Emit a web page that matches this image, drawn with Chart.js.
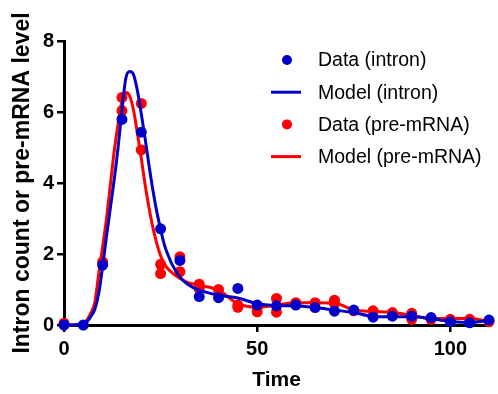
<!DOCTYPE html>
<html>
<head>
<meta charset="utf-8">
<script src="https://cdn.jsdelivr.net/npm/chart.js@4.4.1/dist/chart.umd.min.js"></script>
<style>
  html, body { margin: 0; padding: 0; background: #fff; }
</style>
</head>
<body>
<canvas id="chart" width="498" height="394"></canvas>
<script>
// measured data (replicates share a time point)
const intronTimes = [0, 5, 10, 15, 20, 25, 30, 35, 40, 45, 50, 55, 60, 65, 70, 75, 80, 85, 90, 95, 100, 105, 110];
const intronValues = [0, 0, 1.69, 5.79, 5.43, 2.71, 1.82, 0.80, 0.77, 1.03, 0.56, 0.54, 0.56, 0.49, 0.39, 0.42, 0.22, 0.25, 0.25, 0.21, 0.09, 0.06, 0.14];

const preTimes = [0, 10, 15, 15, 20, 20, 25, 25, 30, 30, 35, 35, 40, 45, 45, 50, 50, 55, 55, 60, 65, 70, 70, 75, 80, 85, 90, 90, 95, 100, 105, 110];
const preValues = [0.05, 1.78, 6.41, 6.04, 6.24, 4.93, 1.71, 1.45, 1.92, 1.50, 1.15, 1.02, 1.00, 0.56, 0.50, 0.51, 0.37, 0.75, 0.36, 0.63, 0.63, 0.70, 0.60, 0.40, 0.40, 0.35, 0.33, 0.16, 0.16, 0.16, 0.16, 0.09];

// fitted model curves
const modelTimes = [0, 5, 6, 7, 8, 9, 10, 11, 12, 13, 14, 15, 16, 17, 18, 19, 20, 21, 22, 23, 24, 25, 26, 27, 28, 30, 32, 35, 40, 45, 50, 55, 60, 65, 70, 75, 80, 85, 90, 95, 100, 105, 110];
const modelIntron = [0, 0.02, 0.1, 0.25, 0.45, 0.9, 1.65, 2.5, 3.3, 4.1, 5.0, 6.05, 6.95, 7.14, 7.05, 6.6, 5.95, 5.25, 4.5, 3.8, 3.2, 2.7, 2.25, 1.95, 1.7, 1.35, 1.15, 0.98, 0.84, 0.76, 0.6, 0.55, 0.54, 0.49, 0.42, 0.35, 0.24, 0.23, 0.23, 0.18, 0.1, 0.07, 0.13];
const modelPre = [0, 0.03, 0.15, 0.35, 0.65, 1.45, 2.2, 3.0, 3.95, 4.9, 5.67, 6.3, 6.55, 6.45, 6.05, 5.4, 4.7, 3.95, 3.3, 2.75, 2.3, 1.95, 1.72, 1.57, 1.47, 1.31, 1.2, 1.12, 0.98, 0.6, 0.5, 0.56, 0.63, 0.63, 0.62, 0.42, 0.38, 0.35, 0.27, 0.18, 0.18, 0.18, 0.1];

const xTicks = [0, 50, 100];
const yTicks = [0, 2, 4, 6, 8];

const BLUE = '#0000c8';
const RED = '#ff0000';

const toPoints = (xs, ys) => xs.map((x, i) => ({ x: x, y: ys[i] }));

Chart.defaults.font.family = 'Arial, "Liberation Sans", sans-serif';
Chart.defaults.color = '#000';

// legend drawn inside the plot, top right
const insideLegend = {
  id: 'insideLegend',
  afterDraw(chart) {
    const { ctx, chartArea } = chart;
    const markX = chartArea.left + 223;
    const textX = chartArea.left + 254;
    const top = chartArea.top + 19;
    ctx.save();
    ctx.font = '19.5px Arial, "Liberation Sans", sans-serif';
    ctx.textBaseline = 'middle';
    chart.data.datasets.forEach((ds, i) => {
      const y = top + i * 32.2;
      if (ds.showLine === false) {
        ctx.beginPath();
        ctx.fillStyle = ds.backgroundColor;
        ctx.arc(markX, y, 5, 0, Math.PI * 2);
        ctx.fill();
      } else {
        ctx.beginPath();
        ctx.strokeStyle = ds.borderColor;
        ctx.lineWidth = ds.borderWidth;
        ctx.moveTo(markX - 16, y);
        ctx.lineTo(markX + 14, y);
        ctx.stroke();
      }
      ctx.fillStyle = '#000';
      ctx.fillText(ds.label, textX, y + 1);
    });
    ctx.restore();
  }
};

new Chart(document.getElementById('chart').getContext('2d'), {
  type: 'line',
  data: {
    datasets: [
      {
        label: 'Data (intron)',
        data: toPoints(intronTimes, intronValues),
        showLine: false,
        backgroundColor: BLUE,
        borderColor: BLUE,
        pointRadius: 5.5,
        pointBorderWidth: 0,
        clip: false
      },
      {
        label: 'Model (intron)',
        data: toPoints(modelTimes, modelIntron),
        borderColor: BLUE,
        borderWidth: 3,
        pointRadius: 0,
        cubicInterpolationMode: 'monotone',
        clip: false
      },
      {
        label: 'Data (pre-mRNA)',
        data: toPoints(preTimes, preValues),
        showLine: false,
        backgroundColor: RED,
        borderColor: RED,
        pointRadius: 5.5,
        pointBorderWidth: 0,
        clip: false
      },
      {
        label: 'Model (pre-mRNA)',
        data: toPoints(modelTimes, modelPre),
        borderColor: RED,
        borderWidth: 3,
        pointRadius: 0,
        cubicInterpolationMode: 'monotone',
        clip: false
      }
    ]
  },
  options: {
    responsive: false,
    animation: false,
    devicePixelRatio: 1,
    layout: { padding: { left: 0, top: 41, right: 9, bottom: 0 } },
    plugins: {
      legend: { display: false },
      tooltip: { enabled: false }
    },
    scales: {
      x: {
        type: 'linear',
        min: 0,
        max: 110,
        afterBuildTicks: (s) => { s.ticks = xTicks.map(v => ({ value: v })); },
        afterFit: (s) => { s.height = 69; },
        ticks: { font: { size: 20, weight: 'bold' }, color: '#000', padding: 5, maxRotation: 0 },
        grid: { drawOnChartArea: false, color: '#000', lineWidth: 2.5, tickLength: 7 },
        border: { color: '#000', width: 3 },
        title: { display: true, text: 'Time', font: { size: 21, weight: 'bold' }, color: '#000', padding: { top: 0, bottom: 1 } }
      },
      y: {
        min: 0,
        max: 8,
        afterBuildTicks: (s) => { s.ticks = yTicks.map(v => ({ value: v })); },
        afterFit: (s) => { s.width = 64; },
        ticks: { font: { size: 20, weight: 'bold' }, color: '#000', padding: 3 },
        grid: { drawOnChartArea: false, color: '#000', lineWidth: 2.5, tickLength: 7 },
        border: { color: '#000', width: 3 },
        title: { display: true, text: 'Intron count or pre-mRNA level', font: { size: 23, weight: 'bold' }, color: '#000', padding: { top: 9, bottom: 0 } }
      }
    }
  },
  plugins: [insideLegend]
});
</script>
</body>
</html>
